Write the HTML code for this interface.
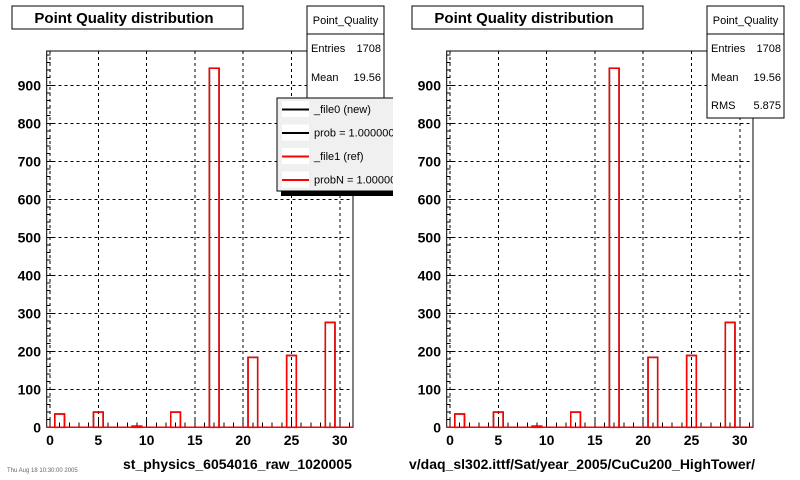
<!DOCTYPE html>
<html><head><meta charset="utf-8"><style>
body{margin:0;background:#fff;width:800px;height:480px;overflow:hidden}
svg{display:block;font-family:"Liberation Sans",Arial,sans-serif}
line{shape-rendering:crispEdges}
</style></head><body>
<svg id="c" width="800" height="480" viewBox="0 0 800 480"></svg>
<script>
const binCenters=[1,5,9,13,17,21,25,29];
const countsNew=[35,40,3,40,945,184,189,276];
const countsRef=[35,40,3,40,945,184,189,276];
const xTicks=[0,5,10,15,20,25,30];
const yTicks=[0,100,200,300,400,500,600,700,800,900];
const xLabels=["st_physics_6054016_raw_1020005","v/daq_sl302.ittf/Sat/year_2005/CuCu200_HighTower/"];
const NS="http://www.w3.org/2000/svg";
const svg=document.getElementById('c');
function mk(tag,attrs,parent){const e=document.createElementNS(NS,tag);for(const k in attrs)e.setAttribute(k,attrs[k]);(parent||svg).appendChild(e);return e;}
const X0=46.7,X1=353,Y0=427.3,Y1=51;
function sx(ox,v){return ox+50+(v)*9.66;}
function sy(v){return Y0-v*0.38;}
[0,400].forEach((ox,pi)=>{
  const g=mk('g',{});
  
  
  const clipId='clip'+pi;
  const cp=mk('clipPath',{id:clipId},g);mk('rect',{x:ox,y:0,width:393,height:480},cp);
  g.setAttribute('clip-path','url(#'+clipId+')');
  xTicks.forEach(t=>{const l=mk('line',{x1:sx(ox,t),x2:sx(ox,t),y1:Y1,y2:Y0,stroke:'#000','stroke-dasharray':'3,3','stroke-width':1},g);
    });
  yTicks.forEach(t=>{if(t===0)return;const l=mk('line',{x1:ox+X0,x2:ox+X1,y1:sy(t),y2:sy(t),stroke:'#000','stroke-dasharray':'3,3','stroke-width':1},g);
    });
  const fr=mk('rect',{x:ox+X0,y:Y1,width:X1-X0,height:Y0-Y1,fill:'none',stroke:'#000','stroke-width':1},g);
  
  for(let v=0;v<=1000;v+=20){if(sy(v)<Y1)break;const m=v%100===0;mk('line',{x1:ox+X0,x2:ox+X0+(m?8:4),y1:sy(v),y2:sy(v),stroke:'#000'},g);}
  for(let v=0;v<=31;v++){const m=v%5===0;mk('line',{x1:sx(ox,v),x2:sx(ox,v),y1:Y0,y2:Y0-(m?10:5),stroke:'#000'},g);}
  yTicks.forEach(t=>{const tx=mk('text',{x:ox+41,y:sy(t)+5,'text-anchor':'end','font-size':14,'font-weight':'bold'},g);tx.textContent=t;
    });
  xTicks.forEach(t=>{const tx=mk('text',{x:sx(ox,t),y:445,'text-anchor':'middle','font-size':14,'font-weight':'bold'},g);tx.textContent=t;
    });
  binCenters.forEach((c,i)=>{
    const b=mk('rect',{x:sx(ox,c-0.5),y:sy(countsNew[i]),width:9.66,height:Y0-sy(countsNew[i]),fill:'none',stroke:'#000','stroke-width':1.5},g);
    
  });
  binCenters.forEach((c,i)=>{
    const b=mk('rect',{x:sx(ox,c-0.5),y:sy(countsRef[i]),width:9.66,height:Y0-sy(countsRef[i]),fill:'none',stroke:'#f00','stroke-width':1.5},g);
    
  });
  mk('line',{x1:ox+X0,x2:ox+X1,y1:Y0,y2:Y0,stroke:'#f00','stroke-width':1.5},g);
  const xt=mk('text',{x:pi?ox+9:ox+123,y:469,'font-size':14,'font-weight':'bold'},g);xt.textContent=xLabels[pi];
  
  const tb=mk('rect',{x:ox+12,y:6,width:231,height:23,fill:'#fff',stroke:'#000'},g);
  
  const tt=mk('text',{x:ox+124,y:23,'text-anchor':'middle','font-size':15,'font-weight':'bold'},g);tt.textContent='Point Quality distribution';
  
  const sb=mk('rect',{x:ox+307,y:6,width:77,height:112,fill:'#fff',stroke:'#000'},g);
  
  mk('line',{x1:ox+307,x2:ox+384,y1:34,y2:34,stroke:'#000'},g);
  const st=[['Point_Quality',null,24],['Entries','1708',52],['Mean','19.56',81],['RMS','5.875',109]];
  st.forEach(r=>{
    if(r[1]===null){const t=mk('text',{x:ox+345.5,y:r[2],'text-anchor':'middle','font-size':11},g);t.textContent=r[0];
      }
    else{const a=mk('text',{x:ox+311,y:r[2],'font-size':11},g);a.textContent=r[0];
      
      const b=mk('text',{x:ox+381,y:r[2],'text-anchor':'end','font-size':11},g);b.textContent=r[1];
      }
  });
  if(pi===0){
    mk('rect',{x:281,y:102,width:120,height:94,fill:'#000'},g);
    const lg=mk('rect',{x:277,y:98,width:124,height:93,fill:'#f0f0f0',stroke:'#000'},g);
    
    const ents=[['_file0 (new)','#000000'],['prob = 1.000000','#000000'],['_file1 (ref)','#ff0000'],['probN = 1.000000','#ff0000']];
    ents.forEach((e,i)=>{const y=109+i*23.5;
      mk('rect',{x:282,y:y-8,width:27,height:16,fill:'#fff'},g);
      const l=mk('rect',{x:282,y:y-0.5,width:27,height:2,fill:e[1]},g);
      
      const t=mk('text',{x:314,y:y+4,'font-size':11},g);t.textContent=e[0];
      });
  }
});
const ft=mk('text',{x:7,y:472,'font-size':6,fill:'#666'});ft.textContent='Thu Aug 18 10:30:00 2005';


</script>
</body></html>
